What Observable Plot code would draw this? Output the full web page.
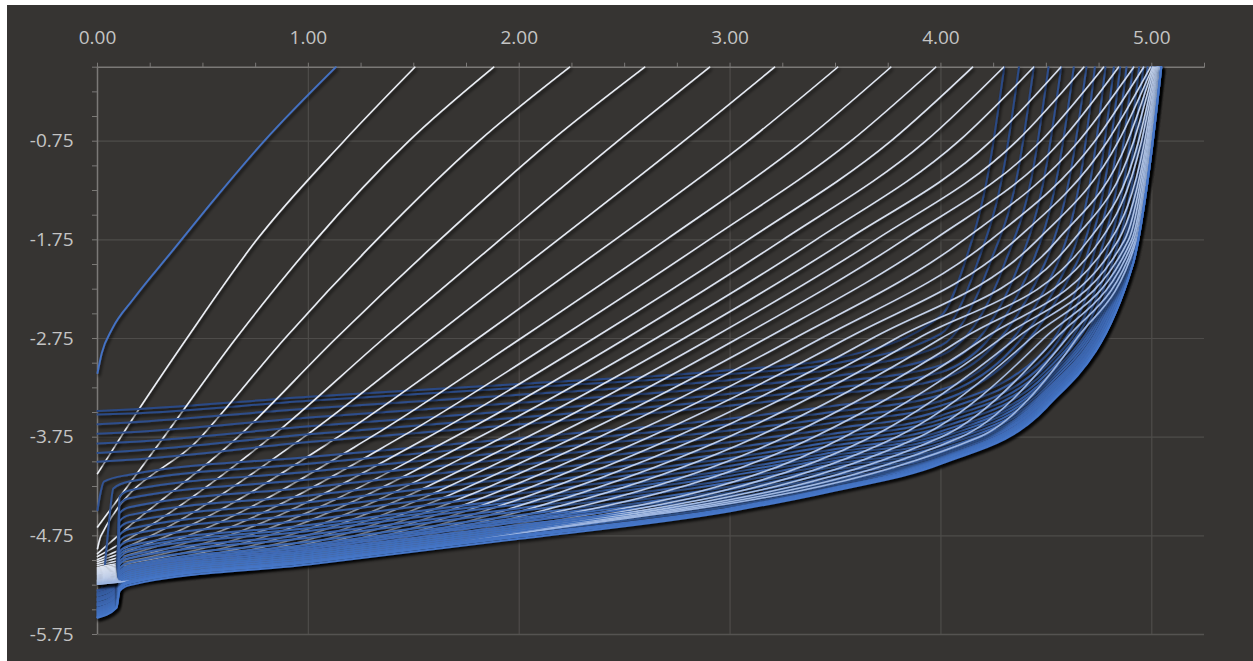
<!DOCTYPE html>
<html><head><meta charset="utf-8">
<script src="https://cdn.jsdelivr.net/npm/d3@7"></script>
<script src="https://cdn.jsdelivr.net/npm/@observablehq/plot@0.6"></script>
<style>
html,body{margin:0;padding:0;background:#fff;}
#chart{position:absolute;left:7px;top:5px;width:1246px;height:656px;background:#363432;}
#chart svg{display:block;}
</style></head><body><div id="chart"></div>
<script>
// axis ticks
const xMajor = [0, 1, 2, 3, 4, 5];
const xMinor = [0.25,0.5,0.75,1.25,1.5,1.75,2.25,2.5,2.75,3.25,3.5,3.75,4.25,4.5,4.75,5.25];
const yMajor = [-0.75, -1.75, -2.75, -3.75, -4.75, -5.75];
const yMinor = [0,-0.25,-0.5,-1,-1.25,-1.5,-2,-2.25,-2.5,-3,-3.25,-3.5,-4,-4.25,-4.5,-5,-5.25,-5.5];

// first (leftmost) curve
const firstX = [0, 0.02, 0.07, 0.17, 0.36, 0.55, 0.79, 1.13];
const firstY = [-3.10, -2.90, -2.65, -2.35, -1.85, -1.35, -0.75, 0];

// white family: y at x=0, then x where each curve crosses -4.75, -3.75, -2.75, -1.75, -0.75 and 0
const whiteStart = [-4.12,-4.66,-4.88,-4.93,-4.96,-4.99,-5.01,-5.03,-5.05,-5.07,-5.08,-5.09,-5.10,-5.11,-5.12,-5.13,-5.14,-5.15,-5.16,-5.17,-5.18,-5.19,-5.20,-5.20,-5.21,-5.21,-5.22,-5.22,-5.23,-5.23,-5.24,-5.24];
const whiteX475 = [null,null,0.016,0.096,0.172,0.253,0.333,0.428,0.523,0.618,0.713,0.808,0.902,0.988,1.068,1.144,1.220,1.291,1.362,1.429,1.495,1.557,1.614,1.666,1.713,1.756,1.794,1.827,1.855,1.884,1.908,1.927];
const whiteX375 = [0.110,0.314,0.490,0.665,0.822,0.978,1.139,1.296,1.438,1.567,1.690,1.808,1.922,2.036,2.149,2.263,2.377,2.495,2.614,2.737,2.861,2.989,3.122,3.259,3.396,3.539,3.667,3.786,3.894,3.999,4.093,4.179];
const whiteX275 = [0.423,0.656,0.888,1.130,1.357,1.580,1.803,2.007,2.187,2.353,2.505,2.647,2.780,2.908,3.036,3.169,3.302,3.430,3.553,3.672,3.786,3.890,3.999,4.103,4.203,4.283,4.354,4.425,4.487,4.544,4.596,4.644];
const whiteX175 = [0.755,1.035,1.324,1.623,1.908,2.183,2.453,2.695,2.899,3.084,3.249,3.406,3.553,3.690,3.823,3.965,4.108,4.236,4.354,4.458,4.553,4.629,4.700,4.757,4.805,4.842,4.871,4.890,4.904,4.914,4.923,4.928];
const whiteX075 = [1.168,1.476,1.808,2.149,2.467,2.780,3.084,3.349,3.572,3.762,3.927,4.084,4.236,4.359,4.473,4.568,4.653,4.729,4.790,4.842,4.885,4.914,4.937,4.951,4.966,4.975,4.980,4.985,4.989,4.994,4.996,4.999];
const whiteTop  = [1.505,1.879,2.239,2.595,2.903,3.211,3.510,3.762,3.975,4.150,4.297,4.439,4.568,4.677,4.771,4.842,4.914,4.961,4.994,5.004,5.008,5.013,5.018,5.023,5.025,5.027,5.030,5.032,5.034,5.037,5.039,5.042];

// blue family: y at x=0, y at 0.15, 1, 2, 3, 3.5, 4, 4.5; x at y=-2, y=-1, y=0
const blueStart = [-3.485,-3.52,-3.62,-3.715,-3.815,-3.91,-4.00,-4.49,-5.50,-5.30,-5.31,-5.33,-5.34,-5.35,-5.36,-5.38,-5.39,-5.40,-5.41,-5.43,-5.44,-5.45,-5.46,-5.48,-5.49,-5.50,-5.51,-5.52,-5.53,-5.54,-5.55,-5.56,-5.57,-5.575,-5.58];
const blueLevel = [-3.47,-3.51,-3.60,-3.70,-3.80,-3.89,-3.98,-4.13,-4.20,-4.29,-4.37,-4.46,-4.54,-4.61,-4.68,-4.74,-4.80,-4.85,-4.88,-4.91,-4.95,-4.98,-5.02,-5.05,-5.07,-5.09,-5.11,-5.13,-5.15,-5.17,-5.19,-5.21,-5.22,-5.23,-5.25];
const blueY1 = [-3.34,-3.38,-3.46,-3.55,-3.64,-3.72,-3.80,-3.95,-4.02,-4.10,-4.18,-4.26,-4.34,-4.41,-4.47,-4.53,-4.59,-4.64,-4.67,-4.70,-4.74,-4.77,-4.81,-4.84,-4.86,-4.88,-4.90,-4.92,-4.94,-4.96,-4.98,-5.00,-5.01,-5.02,-5.04];
const blueY2 = [-3.21,-3.25,-3.32,-3.40,-3.48,-3.55,-3.62,-3.76,-3.82,-3.89,-3.96,-4.03,-4.10,-4.16,-4.22,-4.27,-4.32,-4.37,-4.40,-4.43,-4.47,-4.50,-4.54,-4.57,-4.59,-4.61,-4.64,-4.66,-4.68,-4.70,-4.72,-4.74,-4.75,-4.76,-4.78];
const blueY3 = [-3.07,-3.11,-3.17,-3.24,-3.31,-3.37,-3.43,-3.56,-3.62,-3.68,-3.74,-3.80,-3.86,-3.91,-3.96,-4.00,-4.04,-4.08,-4.11,-4.14,-4.18,-4.21,-4.25,-4.28,-4.31,-4.34,-4.37,-4.39,-4.41,-4.43,-4.45,-4.47,-4.48,-4.49,-4.50];
const blueY35 = [-2.95,-3.00,-3.06,-3.13,-3.19,-3.25,-3.31,-3.43,-3.49,-3.55,-3.60,-3.66,-3.71,-3.75,-3.79,-3.83,-3.87,-3.90,-3.93,-3.96,-3.99,-4.02,-4.05,-4.08,-4.11,-4.14,-4.17,-4.19,-4.21,-4.23,-4.25,-4.26,-4.27,-4.28,-4.29];
const blueY4 = [-2.52,-2.70,-2.82,-2.92,-3.02,-3.09,-3.16,-3.27,-3.32,-3.38,-3.43,-3.48,-3.53,-3.57,-3.61,-3.65,-3.69,-3.72,-3.75,-3.78,-3.81,-3.84,-3.87,-3.89,-3.91,-3.93,-3.95,-3.96,-3.97,-3.98,-3.99,-4.00,-4.01,-4.01,-4.02];
const blueY45 = [null,null,null,null,null,null,null,null,null,null,-2.85,-2.92,-2.98,-3.03,-3.07,-3.11,-3.15,-3.18,-3.21,-3.24,-3.27,-3.29,-3.31,-3.33,-3.35,-3.36,-3.38,-3.39,-3.40,-3.41,-3.42,-3.43,-3.44,-3.44,-3.45];
const blueX2 = [4.11,4.17,4.23,4.30,4.37,4.43,4.49,4.55,4.60,4.64,4.68,4.71,4.74,4.77,4.79,4.81,4.83,4.84,4.85,4.86,4.87,4.87,4.88,4.88,4.89,4.89,4.89,4.90,4.90,4.90,4.90,4.91,4.91,4.91,4.91];
const blueX1 = [4.23,4.30,4.37,4.44,4.50,4.56,4.62,4.67,4.72,4.76,4.79,4.82,4.85,4.88,4.90,4.92,4.94,4.95,4.96,4.96,4.97,4.97,4.98,4.98,4.98,4.98,4.98,4.98,4.99,4.99,4.99,4.99,4.99,4.99,4.99];
const blueTop = [4.30,4.37,4.44,4.51,4.57,4.63,4.69,4.73,4.78,4.82,4.85,4.88,4.91,4.94,4.96,4.98,5.00,5.01,5.02,5.02,5.03,5.03,5.03,5.035,5.035,5.04,5.04,5.04,5.04,5.04,5.045,5.045,5.045,5.045,5.045];

// ---- build table ----
const rows = [];
const order = [];
const add = (id, color, width, pts) => {
  order.push(width);
  pts.forEach(([x, y], k) => rows.push({id, color, x, y, k}));
};

add("c0", "#4472c4", 1.9, firstX.map((x, i) => [x, firstY[i]]));

const nW = whiteX375.length, nB = blueTop.length;
const whiteColor = t => d3.interpolateRgb("#eceff5", "#9db6e2")(Math.pow(t, 1.4));
const blueColor = d3.interpolateRgb("#2b4a86", "#4677c9");

function whitePts(i) {
  const p = [[0, whiteStart[i]]];
  if (whiteX475[i] != null) p.push([whiteX475[i], -4.75]);
  p.push([whiteX375[i], -3.75], [whiteX275[i], -2.75], [whiteX175[i], -1.75], [whiteX075[i], -0.75], [whiteTop[i], 0]);
  return p;
}
function bluePts(j) {
  let p;
  if (j <= 6) p = [[0, blueStart[j]]];
  else if (j === 7) p = [[0, blueStart[j]], [0.01, -4.36], [0.03, -4.2]];
  else if (j === 8) p = [[0, blueStart[j]], [0.03, -5.15], [0.055, -4.6], [0.075, -4.27]];
  else p = [[0, blueStart[j]], [0.09, blueStart[j] + 0.1], [0.105, blueLevel[j] - 0.06]];
  p.push([0.15, blueLevel[j]], [1, blueY1[j]], [2, blueY2[j]], [3, blueY3[j]], [3.5, blueY35[j]], [4, blueY4[j]]);
  if (blueY45[j] != null) p.push([4.5, blueY45[j]]);
  p.push([blueX2[j], -2], [blueX1[j], -1], [blueTop[j], 0]);
  return p;
}
for (let k = 0; k < Math.max(nW, nB); k++) {
  if (k < nW) add("w" + k, whiteColor(k / (nW - 1)), 1.6, whitePts(k));
  if (k < nB) add("b" + k, blueColor(k / (nB - 1)), 2.0, bluePts(k));
}

const axisCol = "#7b7977", gridCol = "#4e4c4a", textCol = "#c4c4c4";
const fmt = d => d.toFixed(2);

const chart = Plot.plot({
  width: 1246, height: 656,
  marginLeft: 90, marginRight: 49, marginTop: 61.7, marginBottom: 27,
  x: {domain: [0, 5.25]},
  y: {domain: [-5.75, 0]},
  color: {type: "identity"},
  style: {background: "transparent", fontFamily: "'Open Sans', 'Noto Sans', sans-serif", fontSize: "19px", color: textCol},
  marks: [
    Plot.ruleX(xMajor.slice(1), {y1: -5.75, y2: 0, stroke: gridCol, strokeWidth: 1.2}),
    Plot.ruleY(yMajor.slice(0, 5), {x1: 0, x2: 5.25, stroke: gridCol, strokeWidth: 1.2}),
    Plot.ruleY([-5.75], {x1: 0, x2: 5.25, stroke: "#555351", strokeWidth: 1.4}),
    Plot.axisX(xMajor, {anchor: "top", tickSize: 5, tickPadding: 18, tickFormat: fmt, stroke: axisCol, fill: textCol, fontSize: 19, label: null}),
    Plot.axisX(xMinor, {anchor: "top", tickSize: 5, tickFormat: () => "", stroke: axisCol, label: null}),
    Plot.axisY(yMajor, {anchor: "left", tickSize: 5, tickPadding: 19, tickFormat: fmt, stroke: axisCol, fill: textCol, fontSize: 19, label: null}),
    Plot.axisY(yMinor, {anchor: "left", tickSize: 5, tickFormat: () => "", stroke: axisCol, label: null}),
    Plot.ruleY([0], {x1: 0, x2: 5.25, stroke: axisCol, strokeWidth: 1.5}),
    Plot.ruleX([0], {y1: -5.75, y2: 0, stroke: axisCol, strokeWidth: 1.5}),
    Plot.line(rows, {x: "x", y: "y", z: "id", stroke: "color", strokeWidth: 1.8, curve: "monotone-x", className: "curves"})
  ]
});

// drop shadow like the original, and per-series line width
const svg = d3.select(chart);
const defs = svg.insert("defs", ":first-child");
defs.append("filter").attr("id", "sh").attr("filterUnits", "userSpaceOnUse")
  .attr("x", 0).attr("y", 0).attr("width", 1246).attr("height", 656)
  .append("feDropShadow").attr("dx", 1.5).attr("dy", 2.5).attr("stdDeviation", 1.6)
  .attr("flood-color", "#000").attr("flood-opacity", 0.8);
svg.selectAll(".curves path").attr("filter", "url(#sh)")
  .attr("stroke-width", (d, i) => order[i] ?? 1.8);

document.getElementById("chart").appendChild(chart);
</script></body></html>
